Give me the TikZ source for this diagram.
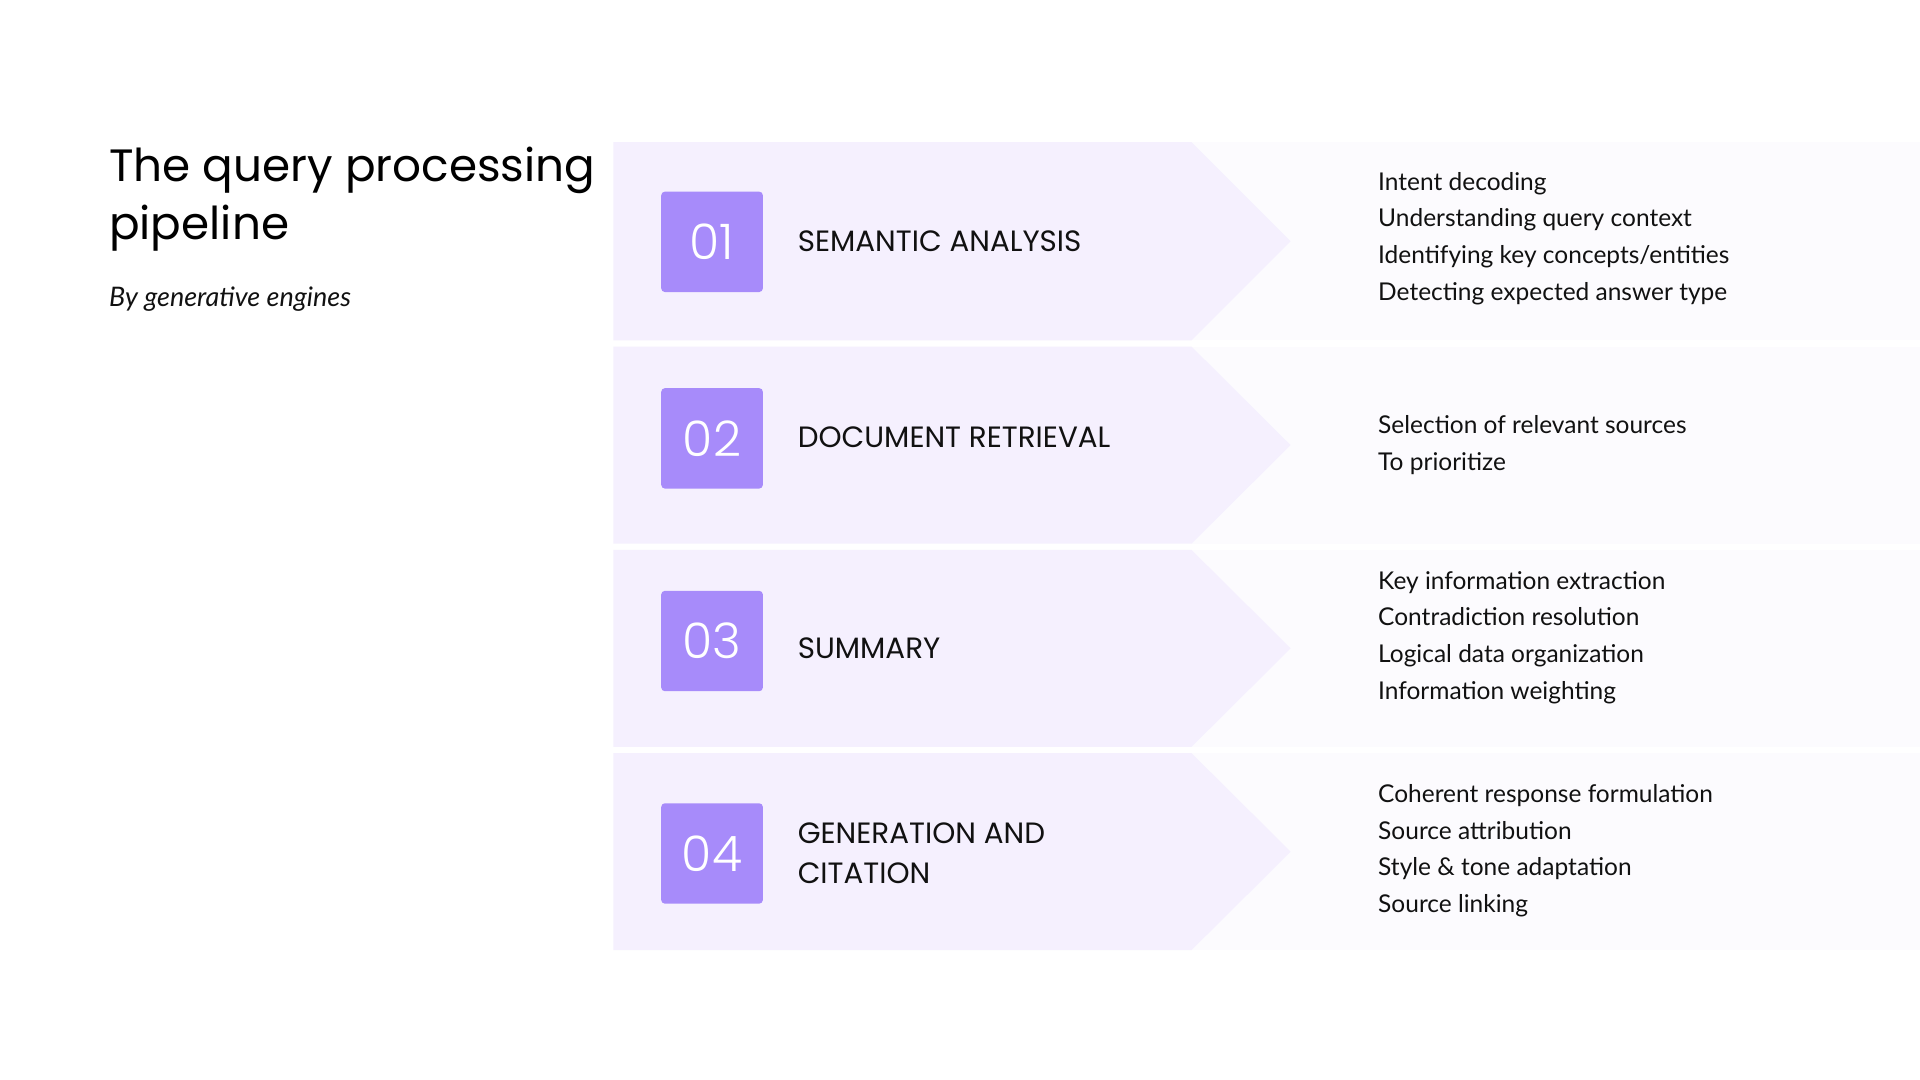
\documentclass[tikz,border=0pt]{standalone}
\usepackage{fontspec}
\setmainfont{Lato}
\newfontfamily\pop{Poppins}
\newfontfamily\popl{Poppins Light}
\definecolor{band}{HTML}{F5F0FE}
\definecolor{side}{HTML}{FCFBFE}
\definecolor{badge}{HTML}{A78BFA}
\definecolor{ink}{HTML}{111111}
\begin{document}
\begin{tikzpicture}[x=1pt,y=-1pt,
  badgebox/.style={fill=badge,rounded corners=3pt,minimum width=83pt,minimum height=82pt,inner sep=0pt,text=white,font=\popl\fontsize{40}{40}\selectfont},
  headtxt/.style={anchor=west,align=left,font=\pop\fontsize{24}{33}\selectfont,text=ink},
  listtxt/.style={anchor=north west,align=left,font=\fontsize{20}{30}\selectfont,text=ink}]
\useasboundingbox (0,0) rectangle (1568,882);
\fill[white] (0,0) rectangle (1568,882);
\node[anchor=north west,align=left,inner sep=0pt,font=\pop\fontsize{37}{47}\selectfont,text=black] (title) at (89,120) {The query processing\\pipeline};
\node[anchor=north west,inner sep=0pt,font=\itshape\fontsize{22}{26}\selectfont,text=ink] (sub) at (89,234) {By generative engines};
\foreach \t/\b in {116/278,283/444,449/610,615/776}{
  \fill[side] (973,\t) rectangle (1568,\b);
  \fill[band] (501,\t) -- (973,\t) -- (1054,{(\t+\b)/2}) -- (973,\b) -- (501,\b) -- cycle;
}
\node[badgebox] (b1) at (581.5,197.5) {01};
\node[badgebox] (b2) at (581.5,358) {02};
\node[badgebox] (b3) at (581.5,523.5) {03};
\node[badgebox] (b4) at (581.5,697) {04};
\node[headtxt] (h1) at (648,197) {SEMANTIC ANALYSIS};
\node[headtxt] (h2) at (648,357) {DOCUMENT RETRIEVAL};
\node[headtxt] (h3) at (648,529) {SUMMARY};
\node[headtxt] (h4) at (648,697) {GENERATION AND\\CITATION};
\node[listtxt] (l1) at (1122,137) {Intent decoding\\Understanding query context\\Identifying key concepts/entities\\Detecting expected answer type};
\node[listtxt] (l2) at (1122,336) {Selection of relevant sources\\To prioritize};
\node[listtxt] (l3) at (1122,463) {Key information extraction\\Contradiction resolution\\Logical data organization\\Information weighting};
\node[listtxt] (l4) at (1122,637) {Coherent response formulation\\Source attribution\\Style \& tone adaptation\\Source linking};
\end{tikzpicture}
\end{document}
